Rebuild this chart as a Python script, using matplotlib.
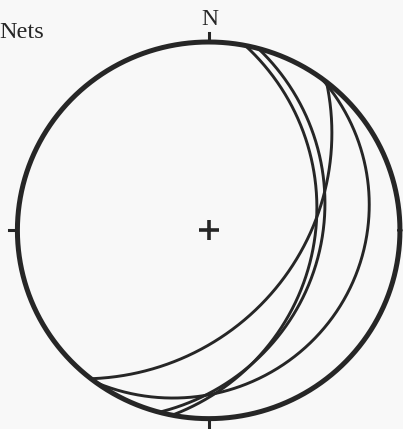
import numpy as np
import matplotlib
matplotlib.use("Agg")
import matplotlib.pyplot as plt

# Planes plotted as great circles on a lower-hemisphere stereographic (Wulff) net
strikes = [11, 15, 38, 36]      # strike azimuth, degrees (dip to the right)
dips = [32, 29, 40, 13]         # dip angle, degrees

INK = "#262626"
BG = "#f8f8f8"


def great_circle(strike, dip, n=500):
    az = np.radians(strike)
    dd = az + np.pi / 2
    d = np.radians(dip)
    t = np.linspace(0, np.pi, n)
    hx = np.cos(t) * np.sin(az) + np.sin(t) * np.cos(d) * np.sin(dd)
    hy = np.cos(t) * np.cos(az) + np.sin(t) * np.cos(d) * np.cos(dd)
    z = np.sin(t) * np.sin(d)
    k = 1.0 / (1.0 + z)
    return hx * k, hy * k


fig = plt.figure(figsize=(4.03, 4.29), dpi=100)
fig.patch.set_facecolor(BG)
ax = fig.add_axes([0, 0, 1, 1])
ax.set_facecolor(BG)
ax.set_xlim(-1.091, 1.016)
ax.set_ylim(-1.055, 1.223)
ax.axis("off")

# primitive circle
th = np.linspace(0, 2 * np.pi, 721)
ax.plot(np.cos(th), np.sin(th), color=INK, lw=3.6, solid_capstyle="round")

# cardinal ticks (N, W, S)
ax.plot([0, 0], [1.0, 1.05], color=INK, lw=2.2)
ax.plot([-1.0, -1.045], [0, 0], color=INK, lw=2.2)
ax.plot([0, 0], [-1.0, -1.06], color=INK, lw=2.2)

# centre mark
ax.plot([0], [0], marker="+", ms=15, mew=2.6, color=INK)

for s, d in zip(strikes, dips):
    x, y = great_circle(s, d)
    ax.plot(x, y, color=INK, lw=2.1, solid_capstyle="round")

ax.text(0.005, 1.09, "N", ha="center", va="baseline", fontsize=17,
        family="Liberation Serif", color=INK)
ax.text(-1.095, 1.021, "Nets", ha="left", va="baseline", fontsize=17.5,
        family="Liberation Serif", color=INK)

fig.savefig("out.png", dpi=100, facecolor=BG)
